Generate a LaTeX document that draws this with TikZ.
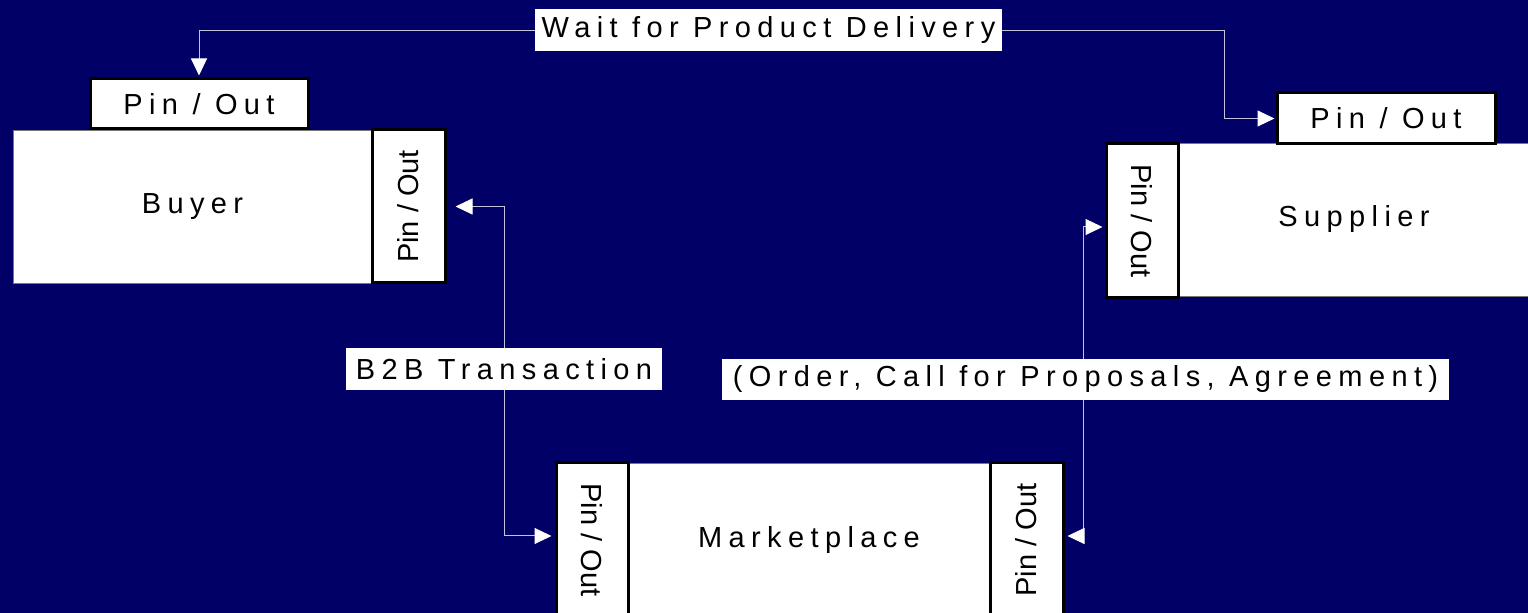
\documentclass[tikz,border=0pt]{standalone}
\usepackage{fontspec}
\setmainfont{Liberation Sans}
\newfontfamily\spaced[LetterSpace=22]{Liberation Sans}
\usetikzlibrary{arrows.meta}
\definecolor{bgnavy}{RGB}{0,0,102}
\definecolor{linecol}{RGB}{195,195,220}
\definecolor{boxedge}{RGB}{120,120,120}
\tikzset{
  mainbox/.style={fill=white, draw=boxedge, line width=0.4pt, inner sep=0pt,
    font=\spaced\fontsize{14.5pt}{16pt}\selectfont},
  pinh/.style={fill=white, draw=black, line width=1.5pt, inner sep=0pt,
    font=\spaced\fontsize{14.5pt}{16pt}\selectfont},
  pinv/.style={fill=white, draw=black, line width=1.5pt, inner sep=0pt,
    font=\fontsize{14.5pt}{16pt}\selectfont},
  lbl/.style={fill=white, inner sep=0pt, font=\spaced\fontsize{14.5pt}{16pt}\selectfont},
  conn/.style={draw=linecol, line width=0.5pt,
    {Triangle[length=8.5pt,width=8pt,color=white]}-{Triangle[length=8.5pt,width=8pt,color=white]}}
}
\begin{document}
\begin{tikzpicture}[x=0.5pt,y=-0.5pt]
\useasboundingbox (0,0) rectangle (1528,613);
\fill[bgnavy] (0,0) rectangle (1528,613);

% main boxes
\node[mainbox, minimum width=179.5pt, minimum height=76.5pt] (buyer) at (192.5,206.5) {Buyer};
\node[mainbox, minimum width=176pt, minimum height=76.5pt] (supplier) at (1354,219.5) {Supplier};
\node[mainbox, minimum width=181pt, minimum height=77pt] (market) at (809,540) {Marketplace};

% pins
\node[pinh, minimum width=109pt, minimum height=25pt] (bpt) at (199,104) {Pin / Out};
\node[pinv, minimum width=36.5pt, minimum height=76.5pt] (bpr) at (408.5,206.5) {\rotatebox{90}{Pin / Out}};
\node[pinh, minimum width=109pt, minimum height=25.5pt] (spt) at (1386,118.5) {Pin / Out};
\node[pinv, minimum width=36pt, minimum height=77pt] (spl) at (1142,221) {\rotatebox{-90}{Pin / Out}};
\node[pinv, minimum width=36pt, minimum height=77pt] (mpl) at (592,540) {\rotatebox{-90}{Pin / Out}};
\node[pinv, minimum width=36.5pt, minimum height=77pt] (mpr) at (1026.5,540) {\rotatebox{90}{Pin / Out}};

% corner coordinates
\coordinate (tr) at (1224,31);
\coordinate (lc) at (504,536);
\coordinate (rc) at (1083,536);

% connectors
\draw[conn] ([yshift=1pt]bpt.north) |- (tr) |- ([xshift=-0.5pt]spt.west);
\draw[conn] ([xshift=4.5pt]bpr.east) -| (lc) -- ([xshift=-1.5pt,yshift=2pt]mpl.west);
\draw[conn] ([xshift=-1pt,yshift=-3pt]spl.west) -| (rc) -- ([xshift=1.5pt,yshift=2pt]mpr.east);

% labels
\node[lbl, minimum width=233.5pt, minimum height=21pt] (lwait) at (768.5,30) {Wait for Product Delivery};
\node[lbl, minimum width=158pt, minimum height=21pt] (lb2b) at (504,369) {B2B Transaction};
\node[lbl, minimum width=363.5pt, minimum height=20.5pt] (lorder) at (1085.5,379.5) {(Order, Call for Proposals, Agreement)};
\end{tikzpicture}
\end{document}
